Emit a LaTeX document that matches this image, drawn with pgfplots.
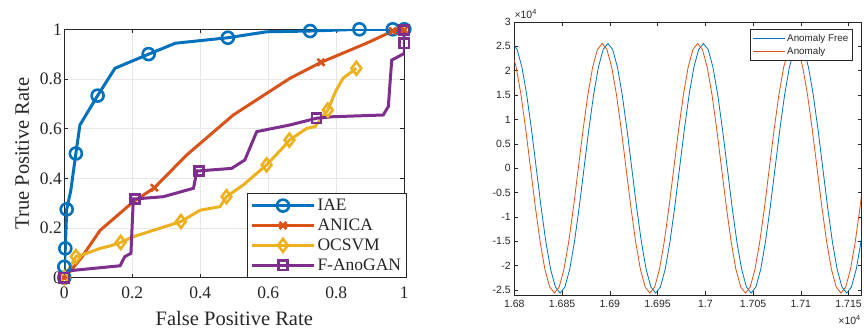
\documentclass[border=0pt]{standalone}
\usepackage{pgfplots}
\pgfplotsset{compat=1.18}
\usepackage{fontspec}
\setmainfont{Liberation Serif}
\newfontfamily\arial{Liberation Sans}
\definecolor{mblue}{rgb}{0,0.447,0.741}
\definecolor{morange}{rgb}{0.85,0.325,0.098}
\definecolor{myellow}{rgb}{0.929,0.694,0.125}
\definecolor{mpurple}{rgb}{0.494,0.184,0.556}
\definecolor{mgray}{rgb}{0.15,0.15,0.15}
\begin{document}
\begin{tikzpicture}
\path[use as bounding box] (0pt,0pt) rectangle (864pt,331pt);
% ---------------- Left: ROC ----------------
\begin{axis}[
  at={(64.3pt,53.3pt)}, anchor=south west,
  scale only axis, width=340pt, height=248.4pt,
  xmin=0, xmax=1, ymin=0, ymax=1,
  xtick={0,0.2,0.4,0.6,0.8,1}, ytick={0,0.2,0.4,0.6,0.8,1},
  /pgf/number format/assume math mode=true,
  tick label style={font=\fontsize{17.5}{18}\selectfont, text=mgray},
  xticklabel style={yshift=-6pt},
  yticklabel style={xshift=1pt},
  label style={font=\fontsize{20.5}{22}\selectfont, text=mgray},
  xlabel={False Positive Rate}, ylabel={True Positive Rate},
  xlabel style={yshift=-5pt}, ylabel style={yshift=4pt},
  grid=major, major grid style={gray!18, line width=0.6pt},
  axis line style={mgray, line width=0.8pt},
  tick style={mgray, line width=0.8pt}, tick align=inside, major tick length=4pt,
  xtick pos=both, ytick pos=both,
  legend style={at={(1.008,0.0)}, anchor=south east, draw=mgray, line width=0.8pt,
    font=\fontsize{17.5}{18}\selectfont, text=mgray, row sep=2.8pt, inner sep=3.5pt},
  legend cell align=left,
  legend image code/.code={\draw[#1, mark indices={2}] plot coordinates {(0pt,0pt) (31pt,0pt) (62pt,0pt)};},
]
\addplot[mblue, line width=3pt, mark=o, mark size=6pt, mark options={line width=2.6pt},
  mark indices={1,2,3,4,6,8,10,12,14,15,16,17}] coordinates {
  (0,0) (0,0.044) (0.003,0.118) (0.007,0.275) (0.019,0.35) (0.034,0.50) (0.046,0.615)
  (0.098,0.733) (0.149,0.843) (0.248,0.90) (0.327,0.944) (0.481,0.966) (0.595,0.99)
  (0.723,0.993) (0.868,1.0) (0.966,1.0) (1,1)};
\addlegendentry{IAE}
\addplot[morange, line width=3pt, mark=x, mark size=5pt, mark options={line width=2.6pt},
  mark indices={1,6,11,13,14}] coordinates {
  (0,0) (0.02,0.03) (0.05,0.08) (0.105,0.19) (0.203,0.306) (0.265,0.362) (0.36,0.494)
  (0.497,0.655) (0.595,0.742) (0.664,0.803) (0.755,0.867) (0.889,0.944) (0.966,0.993) (1,0.997)};
\addlegendentry{ANICA}
\addplot[myellow, line width=3pt, mark=diamond, mark size=6.5pt, mark options={line width=2.6pt},
  mark indices={1,2,6,9,12,15,17,20,23}] coordinates {
  (0,0) (0.034,0.085) (0.07,0.10) (0.105,0.118) (0.135,0.128) (0.166,0.142) (0.203,0.165)
  (0.281,0.199) (0.343,0.226) (0.40,0.272) (0.458,0.286) (0.477,0.326) (0.526,0.373)
  (0.566,0.42) (0.595,0.454) (0.644,0.525) (0.662,0.554) (0.713,0.601) (0.737,0.608)
  (0.775,0.675) (0.80,0.756) (0.82,0.803) (0.859,0.843)};
\addlegendentry{OCSVM}
\addplot[mpurple, line width=3pt, mark=square, mark size=4.6pt, mark options={line width=2.6pt},
  mark indices={1,7,11,16,22,23}] coordinates {
  (0,0) (0.007,0.027) (0.164,0.048) (0.178,0.085) (0.196,0.098) (0.203,0.317) (0.208,0.317)
  (0.291,0.326) (0.38,0.36) (0.39,0.43) (0.396,0.43) (0.492,0.44) (0.531,0.474) (0.566,0.588)
  (0.664,0.615) (0.742,0.642) (0.79,0.648) (0.938,0.655) (0.953,0.689) (0.963,0.876)
  (1,0.903) (1,0.944) (1,0.997)};
\addlegendentry{F-AnoGAN}
\end{axis}
% ---------------- Right: signals ----------------
\begin{axis}[
  at={(514.3pt,36pt)}, anchor=south west,
  scale only axis, width=346.7pt, height=273pt,
  xmin=16800, xmax=17163, ymin=-26000, ymax=30000,
  scaled x ticks=false, scaled y ticks=false,
  xtick={16800,16850,16900,16950,17000,17050,17100,17150},
  xticklabels={1.68,1.685,1.69,1.695,1.7,1.705,1.71,1.715},
  ytick={-25000,-20000,-15000,-10000,-5000,0,5000,10000,15000,20000,25000,30000},
  yticklabels={-2.5,-2,-1.5,-1,-0.5,0,0.5,1,1.5,2,2.5,3},
  tick label style={font=\arial\fontsize{10.5}{11}\selectfont, text=mgray},
  xticklabel style={yshift=-2pt},
  axis line style={mgray, line width=0.6pt},
  tick style={mgray, line width=0.6pt}, tick align=inside, major tick length=3.5pt,
  xtick pos=both, ytick pos=both,
  legend style={at={(0.977,0.974)}, anchor=north east, draw=mgray, line width=0.6pt,
    font=\arial\fontsize{9.8}{10}\selectfont, text=mgray, row sep=0.5pt, inner sep=2.5pt},
  legend cell align=left,
  legend image code/.code={\draw[#1] (0pt,0pt) -- (32pt,0pt);},
  clip mode=individual,
]
\addplot[mblue, line width=0.8pt] coordinates {
(16798,25600)(16803,24347)(16808,20710)(16813,15048)(16818,7911)(16823,0)(16828,-7911)(16833,-15048)(16838,-20710)(16843,-24347)
(16848,-25600)(16853,-24347)(16858,-20710)(16863,-15048)(16868,-7911)(16873,0)(16878,7911)(16883,15048)(16888,20710)(16893,24347)
(16898,25600)(16903,24347)(16908,20710)(16913,15048)(16918,7911)(16923,0)(16928,-7911)(16933,-15048)(16938,-20710)(16943,-24347)
(16948,-25600)(16953,-24347)(16958,-20710)(16963,-15048)(16968,-7911)(16973,0)(16978,7911)(16983,15048)(16988,20710)(16993,24347)
(16998,25600)(17003,24347)(17008,20710)(17013,15048)(17018,7911)(17023,0)(17028,-7911)(17033,-15048)(17038,-20710)(17043,-24347)
(17048,-25600)(17053,-24347)(17058,-20710)(17063,-15048)(17068,-7911)(17073,0)(17078,7911)(17083,15048)(17088,20710)(17093,24347)
(17098,25600)(17103,24347)(17108,20710)(17113,15048)(17118,7911)(17123,0)(17128,-7911)(17133,-15048)(17138,-20710)(17143,-24347)
(17148,-25600)(17153,-24347)(17158,-20710)(17163,-15048)(17168,-7911)};
\addlegendentry{Anomaly Free}
\addplot[morange, line width=0.8pt] coordinates {
(16792,25600)(16797,24347)(16802,20710)(16807,15048)(16812,7911)(16817,0)(16822,-7911)(16827,-15048)(16832,-20710)(16837,-24347)
(16842,-25600)(16847,-24347)(16852,-20710)(16857,-15048)(16862,-7911)(16867,0)(16872,7911)(16877,15048)(16882,20710)(16887,24347)
(16892,25600)(16897,24347)(16902,20710)(16907,15048)(16912,7911)(16917,0)(16922,-7911)(16927,-15048)(16932,-20710)(16937,-24347)
(16942,-25600)(16947,-24347)(16952,-20710)(16957,-15048)(16962,-7911)(16967,0)(16972,7911)(16977,15048)(16982,20710)(16987,24347)
(16992,25600)(16997,24347)(17002,20710)(17007,15048)(17012,7911)(17017,0)(17022,-7911)(17027,-15048)(17032,-20710)(17037,-24347)
(17042,-25600)(17047,-24347)(17052,-20710)(17057,-15048)(17062,-7911)(17067,0)(17072,7911)(17077,15048)(17082,20710)(17087,24347)
(17092,25600)(17097,24347)(17102,20710)(17107,15048)(17112,7911)(17117,0)(17122,-7911)(17127,-15048)(17132,-20710)(17137,-24347)
(17142,-25600)(17147,-24347)(17152,-20710)(17157,-15048)(17162,-7911)(17167,0)};
\addlegendentry{Anomaly}
\node[anchor=south west, font=\arial\fontsize{10.5}{11}\selectfont, text=mgray, inner sep=0pt]
  at (rel axis cs:0,1) [yshift=3pt] {×10\textsuperscript{4}};
\node[anchor=north east, font=\arial\fontsize{10.5}{11}\selectfont, text=mgray, inner sep=0pt]
  at (rel axis cs:1,0) [yshift=-20pt] {×10\textsuperscript{4}};
\end{axis}
\end{tikzpicture}
\end{document}
